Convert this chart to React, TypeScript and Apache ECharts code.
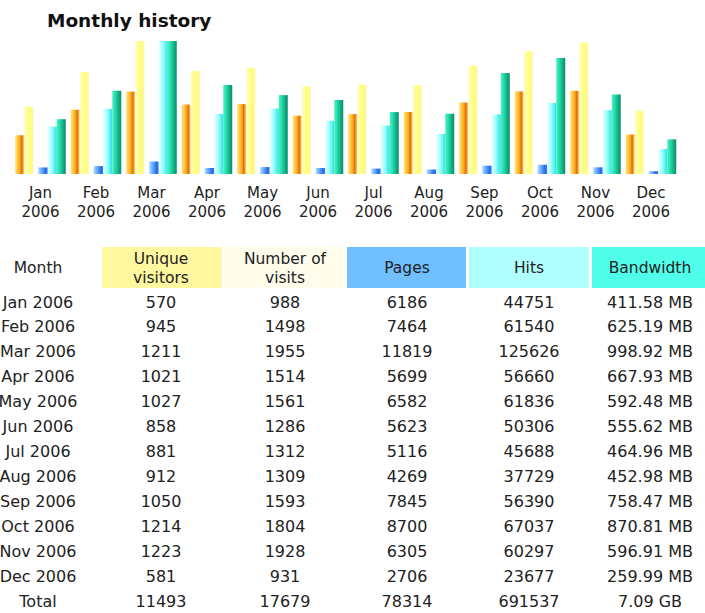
import React, { useEffect, useRef } from "react";
import * as echarts from "echarts";

const months = ["Jan", "Feb", "Mar", "Apr", "May", "Jun", "Jul", "Aug", "Sep", "Oct", "Nov", "Dec"];
const year = "2006";
const visitors = [570, 945, 1211, 1021, 1027, 858, 881, 912, 1050, 1214, 1223, 581];
const visits = [988, 1498, 1955, 1514, 1561, 1286, 1312, 1309, 1593, 1804, 1928, 931];
const pages = [6186, 7464, 11819, 5699, 6582, 5623, 5116, 4269, 7845, 8700, 6305, 2706];
const hits = [44751, 61540, 125626, 56660, 61836, 50306, 45688, 37729, 56390, 67037, 60297, 23677];
const bandwidthMB = [411.58, 625.19, 998.92, 667.93, 592.48, 555.62, 464.96, 452.98, 758.47, 870.81, 596.91, 259.99];
const headers = ["Month", "Unique\nvisitors", "Number of\nvisits", "Pages", "Hits", "Bandwidth"];
const totals = ["Total", "11493", "17679", "78314", "691537", "7.09 GB"];

const FONT = '"DejaVu Sans", Verdana, sans-serif';
const TXT = "#222222";

function grad(stops: [number, string][]) {
  return new echarts.graphic.LinearGradient(
    0, 0, 1, 0,
    stops.map(([offset, color]) => ({ offset, color }))
  );
}

export default function App() {
  const ref = useRef<HTMLDivElement>(null);
  useEffect(() => {
    if (!ref.current) return;
    const chart = echarts.init(ref.current, undefined, { renderer: "svg" });

    const colX = [38, 161, 285, 407, 529, 650];
    const boxes = [
      { x: 102, w: 120, fill: "#fff8a0" },
      { x: 224, w: 121, fill: "#fffcec" },
      { x: 347, w: 119, fill: "#70c0ff" },
      { x: 469, w: 120, fill: "#b0ffff" },
      { x: 592, w: 113, fill: "#50ffea" },
    ];
    const graphics: any[] = [];
    boxes.forEach((b) => {
      graphics.push({
        type: "rect",
        shape: { x: b.x, y: 247, width: b.w, height: 41 },
        style: { fill: b.fill },
        silent: true,
      });
    });
    headers.forEach((h, i) => {
      graphics.push({
        type: "text",
        x: colX[i],
        y: 268,
        style: {
          text: h,
          font: `15.5px ${FONT}`,
          fill: TXT,
          textAlign: "center",
          textVerticalAlign: "middle",
          align: "center",
          verticalAlign: "middle",
          lineHeight: 19,
        },
        silent: true,
      });
    });
    const rows: string[][] = months.map((m, i) => [
      `${m} ${year}`,
      String(visitors[i]),
      String(visits[i]),
      String(pages[i]),
      String(hits[i]),
      `${bandwidthMB[i].toFixed(2)} MB`,
    ]);
    rows.push(totals);
    rows.forEach((r, ri) => {
      r.forEach((cell, ci) => {
        graphics.push({
          type: "text",
          x: colX[ci],
          y: 302 + ri * 24.92,
          style: {
            text: cell,
            font: `16px ${FONT}`,
            fill: TXT,
            textAlign: "center",
            textVerticalAlign: "middle",
            align: "center",
            verticalAlign: "middle",
          },
          silent: true,
        });
      });
    });

    const orange = grad([[0, "#ffe27a"], [0.3, "#ffc43a"], [0.55, "#f8a020"], [0.72, "#e06a08"], [0.85, "#f4a030"], [1, "#ffd870"]]);
    const yellow = grad([[0, "#fffad0"], [0.3, "#ffff9a"], [0.6, "#ffff70"], [1, "#fff4b0"]]);
    const blue = grad([[0, "#b0d8ff"], [0.4, "#60a8ff"], [0.75, "#2a6cf0"], [1, "#3878f0"]]);
    const cyan = grad([[0, "#e8ffff"], [0.4, "#a8ffff"], [0.8, "#50f0f0"], [1, "#30d8d8"]]);
    const green = grad([[0, "#50f0c8"], [0.35, "#20dca8"], [0.75, "#12a880"], [1, "#0c8a68"]]);

    const bar = (name: string, data: any[], yAxisIndex: number, color: any, barWidth: number) => ({
      type: "bar",
      name,
      data,
      yAxisIndex,
      barWidth,
      barGap: "0%",
      itemStyle: { color },
      silent: true,
    });

    chart.setOption({
      animation: false,
      title: {
        text: "Monthly history",
        left: 42,
        top: 6,
        textStyle: { fontFamily: FONT, fontSize: 18.5, fontWeight: "bold", color: "#111" },
      },
      grid: { left: 12.75, top: 41, width: 666, height: 133, containLabel: false },
      xAxis: {
        type: "category",
        data: months.map((m) => `${m}\n${year}`),
        axisLine: { show: false },
        axisTick: { show: false },
        axisLabel: { fontFamily: FONT, fontSize: 15, color: TXT, lineHeight: 19, margin: 9, interval: 0 },
      },
      yAxis: [
        { type: "value", min: 0, max: Math.max(...visits), show: false },
        { type: "value", min: 0, max: Math.max(...hits), show: false },
        { type: "value", min: 0, max: Math.max(...bandwidthMB), show: false },
      ],
      series: [
        bar("Unique visitors", visitors, 0, orange, 9),
        bar("Number of visits", visits, 0, yellow, 9),
        bar("", months.map(() => "-"), 0, "transparent", 5),
        bar("Pages", pages, 1, blue, 9.5),
        bar("Hits", hits, 1, cyan, 9),
        bar("Bandwidth", bandwidthMB, 2, green, 9),
      ],
      graphic: graphics,
    });
    return () => chart.dispose();
  }, []);
  return (
    <div
      ref={ref}
      style={{ position: "fixed", left: 0, top: 0, width: 705, height: 613, background: "#fff" }}
    />
  );
}
